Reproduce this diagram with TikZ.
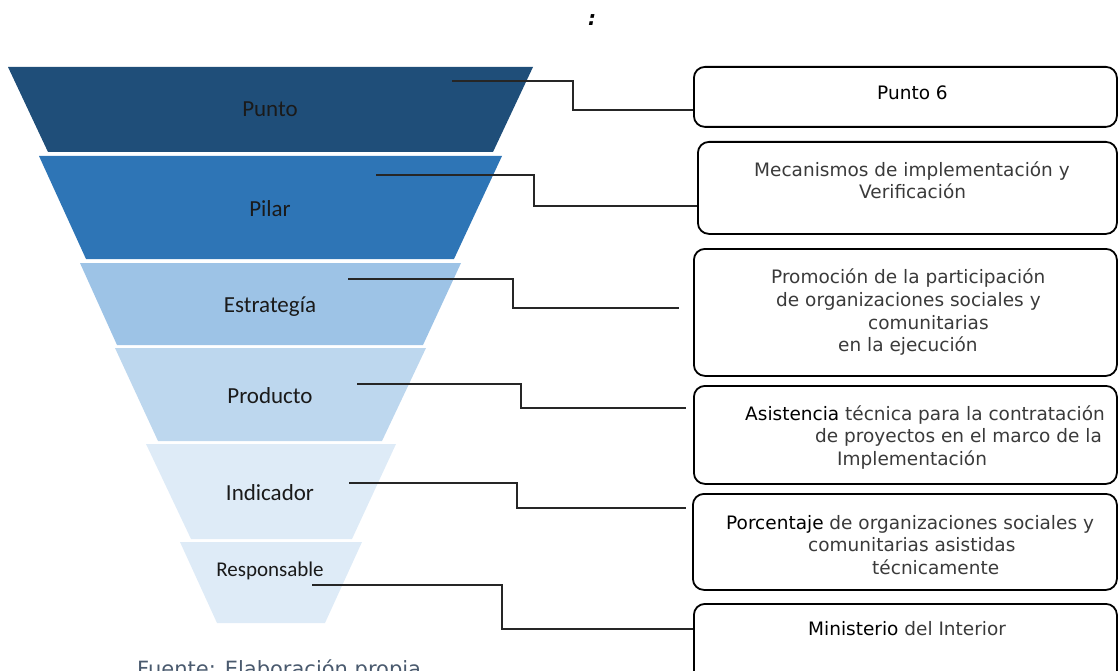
\documentclass[tikz,border=0pt]{standalone}
\usepackage{fontspec}
\setmainfont{DejaVu Sans}
\newfontfamily\funfont{Carlito}
\usetikzlibrary{calc}
\definecolor{segA}{HTML}{1F4E79}
\definecolor{segB}{HTML}{2E75B6}
\definecolor{segC}{HTML}{9DC3E6}
\definecolor{segD}{HTML}{BDD7EE}
\definecolor{segE}{HTML}{DEEBF7}
\definecolor{segF}{HTML}{DEEBF7}
\definecolor{boxtext}{HTML}{3A3A3A}
\definecolor{srctext}{HTML}{4A5A6E}
\definecolor{funtext}{HTML}{1A1A1A}
\tikzset{
  seglabel/.style={anchor=base, inner sep=0pt, text=funtext, font=\funfont\fontsize{23}{27}\selectfont},
  infobox/.style={draw=black, line width=1.8pt, rounded corners=11pt, anchor=north west, inner sep=0pt},
  boxline/.style={anchor=base west, inner sep=0pt, text=boxtext, font=\fontsize{18.5}{22}\selectfont},
  conn/.style={draw=black!85, line width=1.6pt}
}
\begin{document}
\begin{tikzpicture}[x=1pt,y=-1pt]
\useasboundingbox (0,0) rectangle (1118,671);
% funnel segments
\fill[segA] (8,67) -- (533,67) -- (493,152) -- (48,152) -- cycle;
\fill[segB] (39,156) -- (502,156) -- (454,259) -- (86,259) -- cycle;
\fill[segC] (80,263) -- (461,263) -- (423,345) -- (117,345) -- cycle;
\fill[segD] (115,348) -- (426,348) -- (382,441) -- (158,441) -- cycle;
\fill[segE] (146,444) -- (396,444) -- (352,539) -- (191,539) -- cycle;
\fill[segF] (180,542) -- (362,542) -- (325,623) -- (217,623) -- cycle;
% funnel labels
\node[seglabel] (lPunto) at (270,117) {Punto};
\node[seglabel] (lPilar) at (270,216) {Pilar};
\node[seglabel] (lEstr) at (270,312) {Estrategía};
\node[seglabel] (lProd) at (270,403) {Producto};
\node[seglabel] (lInd) at (270,500) {Indicador};
\node[seglabel, font=\funfont\fontsize{21}{25}\selectfont] (lResp) at (270,576) {Responsable};
% colon at top
\node[inner sep=0pt, font=\bfseries\itshape\fontsize{20}{24}\selectfont] (colon) at (592,20) {:};
% boxes
\node[infobox, minimum width=423pt, minimum height=60pt] (b1) at (693,66) {};
\node[infobox, minimum width=419pt, minimum height=92pt] (b2) at (697,141) {};
\node[infobox, minimum width=423pt, minimum height=127pt] (b3) at (693,248) {};
\node[infobox, minimum width=423pt, minimum height=98pt] (b4) at (693,385) {};
\node[infobox, minimum width=424pt, minimum height=96pt] (b5) at (692,493) {};
\node[infobox, minimum width=423pt, minimum height=100pt] (b6) at (693,603) {};
% box texts
\node[boxline, text=black] (t11) at (877,100) {Punto 6};
\node[boxline] (t21) at (754,176) {Mecanismos de implementación y};
\node[boxline] (t22) at (859,198) {Verificación};
\node[boxline] (t31) at (771,283) {Promoción de la participación};
\node[boxline] (t32) at (776,306) {de organizaciones sociales y};
\node[boxline] (t33) at (868,329) {comunitarias};
\node[boxline] (t34) at (838,351) {en la ejecución};
\node[boxline] (t41) at (745,420) {\textcolor{black}{Asistencia} técnica para la contratación};
\node[boxline] (t42) at (815,442) {de proyectos en el marco de la};
\node[boxline] (t43) at (837,465) {Implementación};
\node[boxline] (t51) at (726,529) {\textcolor{black}{Porcentaje} de organizaciones sociales y};
\node[boxline] (t52) at (808,551) {comunitarias asistidas};
\node[boxline] (t53) at (872,574) {técnicamente};
\node[boxline] (t61) at (808,635) {\textcolor{black}{Ministerio} del Interior};
% source line
\node[anchor=base west, inner sep=0pt, text=srctext, font=\fontsize{21}{25}\selectfont] (src) at (137,676) {Fuente: Elaboración propia};
% connector start points and knees
\coordinate (s1) at (452,81);  \coordinate (k1) at (573,110);
\coordinate (s2) at (376,175); \coordinate (k2) at (534,206);
\coordinate (s3) at (348,279); \coordinate (k3) at (513,308);
\coordinate (s4) at (357,384); \coordinate (k4) at (521,408);
\coordinate (s5) at (349,483); \coordinate (k5) at (517,508);
\coordinate (s6) at (312,585); \coordinate (k6) at (502,629);
\coordinate (e3) at ($(b3.west |- k3)+(-14,0)$);
\coordinate (e4) at ($(b4.west |- k4)+(-7,0)$);
\coordinate (e5) at ($(b5.west |- k5)+(-6,0)$);
% connectors
\draw[conn] (s1) -| (k1) -- (b1.west |- k1);
\draw[conn] (s2) -| (k2) -- (b2.west |- k2);
\draw[conn] (s3) -| (k3) -- (e3);
\draw[conn] (s4) -| (k4) -- (e4);
\draw[conn] (s5) -| (k5) -- (e5);
\draw[conn] (s6) -| (k6) -- (b6.west |- k6);
\end{tikzpicture}
\end{document}
